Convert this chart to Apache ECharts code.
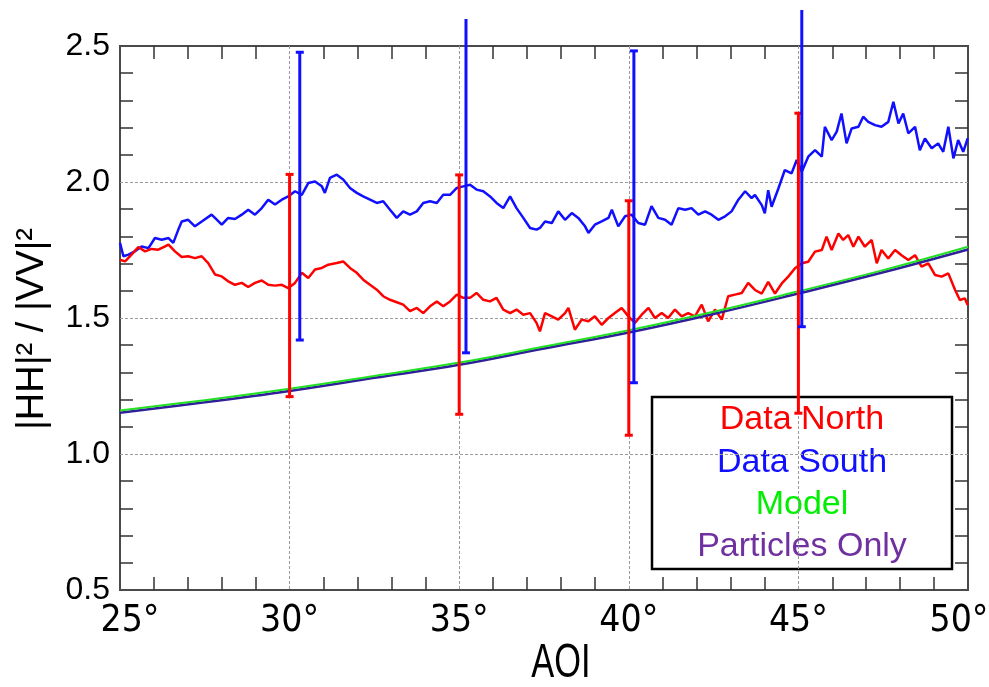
<!DOCTYPE html>
<html>
<head>
<meta charset="utf-8">
<script src="https://cdn.jsdelivr.net/npm/echarts@6/dist/echarts.min.js"></script>
<style>
  html, body { margin: 0; padding: 0; background: #ffffff; }
  #chart { width: 989px; height: 687px; }
</style>
</head>
<body>
<div id="chart"></div>
<script>
// Angle of incidence (degrees) and measured |HH|^2/|VV|^2 ratio, northern data set
const northAoi = [
  25.00, 25.15, 25.34, 25.54, 25.74, 25.93, 26.13, 26.33, 26.43, 26.62, 26.82, 27.01, 27.21, 27.41, 27.60, 27.80,
  28.00, 28.19, 28.39, 28.59, 28.78, 28.98, 29.18, 29.37, 29.57, 29.77, 29.96, 30.16, 30.36, 30.55, 30.75, 30.95,
  31.14, 31.39, 31.58, 31.78, 31.98, 32.17, 32.37, 32.57, 32.76, 32.96, 33.16, 33.35, 33.55, 33.75, 33.94, 34.14,
  34.34, 34.53, 34.73, 34.93, 35.12, 35.32, 35.51, 35.71, 35.91, 36.10, 36.30, 36.50, 36.69, 36.89, 37.09, 37.28,
  37.38, 37.53, 37.73, 37.92, 38.12, 38.22, 38.41, 38.61, 38.81, 39.00, 39.20, 39.40, 39.59, 39.79, 39.99, 40.18,
  40.38, 40.58, 40.77, 40.97, 41.16, 41.36, 41.56, 41.75, 41.95, 42.15, 42.34, 42.54, 42.74, 42.93, 43.13, 43.33,
  43.52, 43.72, 43.92, 44.11, 44.31, 44.51, 44.70, 44.90, 45.10, 45.29, 45.49, 45.69, 45.83, 45.98, 46.18, 46.32,
  46.47, 46.62, 46.77, 46.96, 47.16, 47.31, 47.45, 47.65, 47.85, 48.04, 48.24, 48.44, 48.63, 48.83, 49.03, 49.22,
  49.42, 49.62, 49.76, 49.91, 49.99
];
const northRatio = [
  1.714, 1.708, 1.733, 1.761, 1.745, 1.754, 1.751, 1.763, 1.770, 1.745, 1.724, 1.727, 1.720, 1.727, 1.702, 1.660,
  1.653, 1.635, 1.622, 1.629, 1.614, 1.629, 1.638, 1.622, 1.619, 1.622, 1.610, 1.629, 1.666, 1.647, 1.678, 1.684,
  1.696, 1.702, 1.708, 1.684, 1.666, 1.641, 1.622, 1.604, 1.580, 1.567, 1.558, 1.549, 1.525, 1.537, 1.518, 1.543,
  1.561, 1.543, 1.561, 1.586, 1.574, 1.574, 1.592, 1.567, 1.561, 1.574, 1.531, 1.518, 1.531, 1.512, 1.518, 1.482,
  1.451, 1.518, 1.506, 1.494, 1.518, 1.537, 1.457, 1.494, 1.488, 1.506, 1.475, 1.500, 1.518, 1.537, 1.506, 1.482,
  1.512, 1.537, 1.500, 1.518, 1.500, 1.531, 1.506, 1.518, 1.506, 1.549, 1.488, 1.531, 1.494, 1.580, 1.586, 1.592,
  1.629, 1.603, 1.590, 1.633, 1.590, 1.627, 1.652, 1.683, 1.701, 1.707, 1.744, 1.750, 1.799, 1.750, 1.811, 1.787,
  1.805, 1.762, 1.799, 1.762, 1.787, 1.701, 1.750, 1.719, 1.750, 1.731, 1.713, 1.731, 1.689, 1.701, 1.658, 1.652,
  1.664, 1.603, 1.566, 1.572, 1.548
];

// Southern data set
const southAoi = [
  25.00, 25.10, 25.25, 25.44, 25.64, 25.84, 26.03, 26.23, 26.43, 26.57, 26.72, 26.82, 27.01, 27.21, 27.41, 27.70,
  27.80, 28.00, 28.19, 28.39, 28.59, 28.78, 28.98, 29.18, 29.37, 29.57, 29.77, 29.96, 30.16, 30.36, 30.55, 30.75,
  30.95, 31.04, 31.19, 31.39, 31.58, 31.78, 31.98, 32.17, 32.37, 32.57, 32.76, 32.96, 33.16, 33.35, 33.55, 33.75,
  33.94, 34.14, 34.34, 34.53, 34.73, 34.93, 35.12, 35.32, 35.51, 35.71, 35.91, 36.10, 36.30, 36.50, 36.69, 36.89,
  37.09, 37.28, 37.38, 37.53, 37.73, 37.92, 38.12, 38.32, 38.51, 38.71, 38.81, 39.00, 39.20, 39.40, 39.50, 39.69,
  39.89, 40.08, 40.28, 40.48, 40.67, 40.87, 41.07, 41.26, 41.46, 41.66, 41.85, 42.05, 42.25, 42.44, 42.64, 42.84,
  43.03, 43.23, 43.43, 43.62, 43.72, 43.92, 44.01, 44.11, 44.21, 44.41, 44.60, 44.80, 44.95, 45.10, 45.29, 45.49,
  45.69, 45.78, 45.98, 46.13, 46.27, 46.42, 46.57, 46.77, 46.91, 47.06, 47.26, 47.45, 47.65, 47.80, 47.95, 48.09,
  48.24, 48.44, 48.58, 48.73, 48.93, 49.12, 49.27, 49.42, 49.57, 49.71, 49.86, 49.99
];
const southRatio = [
  1.776, 1.727, 1.733, 1.745, 1.763, 1.757, 1.794, 1.788, 1.794, 1.776, 1.825, 1.855, 1.861, 1.837, 1.855, 1.880,
  1.868, 1.843, 1.868, 1.864, 1.880, 1.898, 1.880, 1.904, 1.935, 1.917, 1.935, 1.947, 1.966, 1.953, 1.996, 2.002,
  1.984, 1.960, 2.015, 2.027, 2.009, 1.978, 1.960, 1.947, 1.935, 1.923, 1.929, 1.898, 1.868, 1.892, 1.880, 1.892,
  1.923, 1.929, 1.923, 1.953, 1.953, 1.978, 1.984, 1.990, 1.972, 1.966, 1.947, 1.923, 1.904, 1.947, 1.904, 1.868,
  1.831, 1.825, 1.831, 1.855, 1.849, 1.892, 1.861, 1.886, 1.868, 1.837, 1.813, 1.843, 1.855, 1.868, 1.898, 1.837,
  1.874, 1.880, 1.849, 1.843, 1.911, 1.868, 1.861, 1.843, 1.904, 1.898, 1.904, 1.880, 1.892, 1.880, 1.861, 1.874,
  1.892, 1.935, 1.966, 1.941, 1.952, 1.915, 1.885, 1.970, 1.909, 1.976, 2.044, 2.032, 2.081, 2.038, 2.093, 2.117,
  2.093, 2.203, 2.154, 2.185, 2.252, 2.142, 2.197, 2.203, 2.240, 2.221, 2.209, 2.203, 2.221, 2.295, 2.215, 2.252,
  2.179, 2.203, 2.117, 2.160, 2.124, 2.142, 2.111, 2.203, 2.087, 2.154, 2.111, 2.160
];

// Model curves
const modelAoi = [25, 27.5, 30, 32.5, 35, 37.5, 40, 42.5, 45, 47.5, 50];
const modelRatio = [1.160, 1.198, 1.240, 1.287, 1.336, 1.395, 1.455, 1.523, 1.598, 1.676, 1.762];
const particlesRatio = [1.152, 1.190, 1.232, 1.280, 1.328, 1.388, 1.447, 1.515, 1.590, 1.668, 1.752];

// Error bars: position, lower and upper limit
const northErrAoi = [30.0, 35.0, 40.0, 45.0];
const northErrLow = [1.211, 1.146, 1.069, 1.150];
const northErrHigh = [2.028, 2.026, 1.931, 2.253];
const southErrAoi = [30.3, 35.2, 40.15, 45.1];
const southErrLow = [1.419, 1.372, 1.262, 1.468];
const southErrHigh = [2.477, 2.599, 2.482, 2.632];

// Axis ranges and labels
const xMin = 25, xMax = 50, xStep = 5;
const yMin = 0.5, yMax = 2.5, yStep = 0.5;
const xTitle = 'AOI';
const yTitle = '|HH|² / |VV|²';
const legendNames = ['Data North', 'Data South', 'Model', 'Particles Only'];

const COLORS = {
  north: '#ff0000',
  south: '#1010ff',
  model: '#22e022',
  particles: '#2f1f9a',
  particlesText: '#7030a0',
  modelText: '#00ee00'
};

const zip = (xs, ys) => xs.map((x, i) => [x, ys[i]]);

function errorBars(color) {
  return function (params, api) {
    const x = api.value(0), lo = api.value(1), hi = api.value(2);
    const top = api.coord([x, hi]);
    const bot = api.coord([x, lo]);
    const half = 4;
    const style = { stroke: color, lineWidth: 3 };
    const children = [
      { type: 'line', shape: { x1: top[0], y1: top[1], x2: bot[0], y2: bot[1] }, style: style },
      { type: 'line', shape: { x1: bot[0] - half, y1: bot[1], x2: bot[0] + half, y2: bot[1] }, style: style }
    ];
    // upper limits beyond the axis range run off the frame without a cap
    if (hi <= yMax) {
      children.push({ type: 'line', shape: { x1: top[0] - half, y1: top[1], x2: top[0] + half, y2: top[1] }, style: style });
    }
    return { type: 'group', children: children };
  };
}

const tickFont = '"Liberation Sans", Arial, sans-serif';
const condensedFont = '"DejaVu Sans Condensed", "Liberation Sans", sans-serif';

const minorTick = { show: true, splitNumber: 5, length: 13, lineStyle: { color: '#333', width: 1.5 } };
const gridDash = { show: true, showMinLine: false, showMaxLine: false,
  lineStyle: { color: '#9a9a9a', type: [3, 2], width: 1 } };

// end labels are nudged inward so they stay inside the canvas
function degreeLabel(v) {
  if (v === xMin) return '{first|' + v + '°}';
  if (v === xMax) return '{last|' + v + '°}';
  return v + '°';
}

const option = {
  animation: false,
  backgroundColor: '#ffffff',
  grid: { left: 120, right: 21, top: 46, bottom: 97, show: true, containLabel: false,
    outerBoundsMode: 'none',
    borderColor: '#4a4a4a', borderWidth: 2, backgroundColor: 'transparent' },
  xAxis: [
    {
      type: 'value', min: xMin, max: xMax, interval: xStep, position: 'bottom',
      axisLine: { show: false },
      axisTick: { show: false, inside: true },
      minorTick: minorTick,
      splitLine: gridDash,
      axisLabel: {
        formatter: degreeLabel, fontSize: 37, fontFamily: condensedFont, color: '#000', margin: 13,
        rich: {
          first: { fontSize: 37, fontFamily: condensedFont, color: '#000', padding: [0, 0, 0, 20] },
          last: { fontSize: 37, fontFamily: condensedFont, color: '#000', padding: [0, 18, 0, 0] }
        }
      }
    },
    {
      type: 'value', min: xMin, max: xMax, interval: xStep, position: 'top',
      axisLine: { show: false },
      axisTick: { show: false, inside: true },
      minorTick: minorTick,
      splitLine: { show: false },
      axisLabel: { show: false }
    }
  ],
  yAxis: [
    {
      type: 'value', min: yMin, max: yMax, interval: yStep, position: 'left',
      axisLine: { show: false },
      axisTick: { show: false, inside: true },
      minorTick: minorTick,
      splitLine: gridDash,
      axisLabel: { formatter: v => v.toFixed(1), fontSize: 32, fontFamily: tickFont, color: '#000', margin: 10 }
    },
    {
      type: 'value', min: yMin, max: yMax, interval: yStep, position: 'right',
      axisLine: { show: false },
      axisTick: { show: false, inside: true },
      minorTick: minorTick,
      splitLine: { show: false },
      axisLabel: { show: false }
    }
  ],
  series: [
    { name: legendNames[1], type: 'line', data: zip(southAoi, southRatio), showSymbol: false,
      lineStyle: { color: COLORS.south, width: 2.5 }, z: 3 },
    { name: legendNames[0], type: 'line', data: zip(northAoi, northRatio), showSymbol: false,
      lineStyle: { color: COLORS.north, width: 2.5 }, z: 3 },
    { name: legendNames[3], type: 'line', data: zip(modelAoi, particlesRatio), showSymbol: false, smooth: 0.4,
      lineStyle: { color: COLORS.particles, width: 2.5 }, z: 4 },
    { name: legendNames[2], type: 'line', data: zip(modelAoi, modelRatio), showSymbol: false, smooth: 0.4,
      lineStyle: { color: COLORS.model, width: 2 }, z: 5 },
    { name: legendNames[0] + ' error', type: 'custom', renderItem: errorBars(COLORS.north),
      data: northErrAoi.map((x, i) => [x, northErrLow[i], northErrHigh[i]]),
      encode: { x: 0, y: [1, 2] }, clip: false, z: 6 },
    { name: legendNames[1] + ' error', type: 'custom', renderItem: errorBars(COLORS.south),
      data: southErrAoi.map((x, i) => [x, southErrLow[i], southErrHigh[i]]),
      encode: { x: 0, y: [1, 2] }, clip: false, z: 6 }
  ],
  graphic: [
    {
      type: 'text', x: 33, y: 329, rotation: Math.PI / 2,
      style: { text: yTitle, font: '38px ' + tickFont, fill: '#000', align: 'center', verticalAlign: 'middle' }
    },
    {
      type: 'text', x: 561, y: 664, scaleX: 0.86, scaleY: 1.22,
      style: { text: xTitle, font: '40px ' + tickFont, fill: '#000', align: 'center', verticalAlign: 'middle' }
    },
    {
      type: 'group', z: 100,
      children: [
        { type: 'rect', shape: { x: 652, y: 397, width: 300, height: 172 },
          style: { fill: '#ffffff', stroke: '#000000', lineWidth: 2.5 } },
        { type: 'text', x: 802, y: 420, style: { text: legendNames[0], font: '34px ' + tickFont,
          fill: COLORS.north, align: 'center', verticalAlign: 'middle' } },
        { type: 'text', x: 802, y: 463, style: { text: legendNames[1], font: '34px ' + tickFont,
          fill: COLORS.south, align: 'center', verticalAlign: 'middle' } },
        { type: 'text', x: 802, y: 505, style: { text: legendNames[2], font: '34px ' + tickFont,
          fill: COLORS.modelText, align: 'center', verticalAlign: 'middle' } },
        { type: 'text', x: 802, y: 547, style: { text: legendNames[3], font: '34px ' + tickFont,
          fill: COLORS.particlesText, align: 'center', verticalAlign: 'middle' } }
      ]
    }
  ]
};

const chart = echarts.init(document.getElementById('chart'), null, { renderer: 'canvas' });
chart.setOption(option);
</script>
</body>
</html>
